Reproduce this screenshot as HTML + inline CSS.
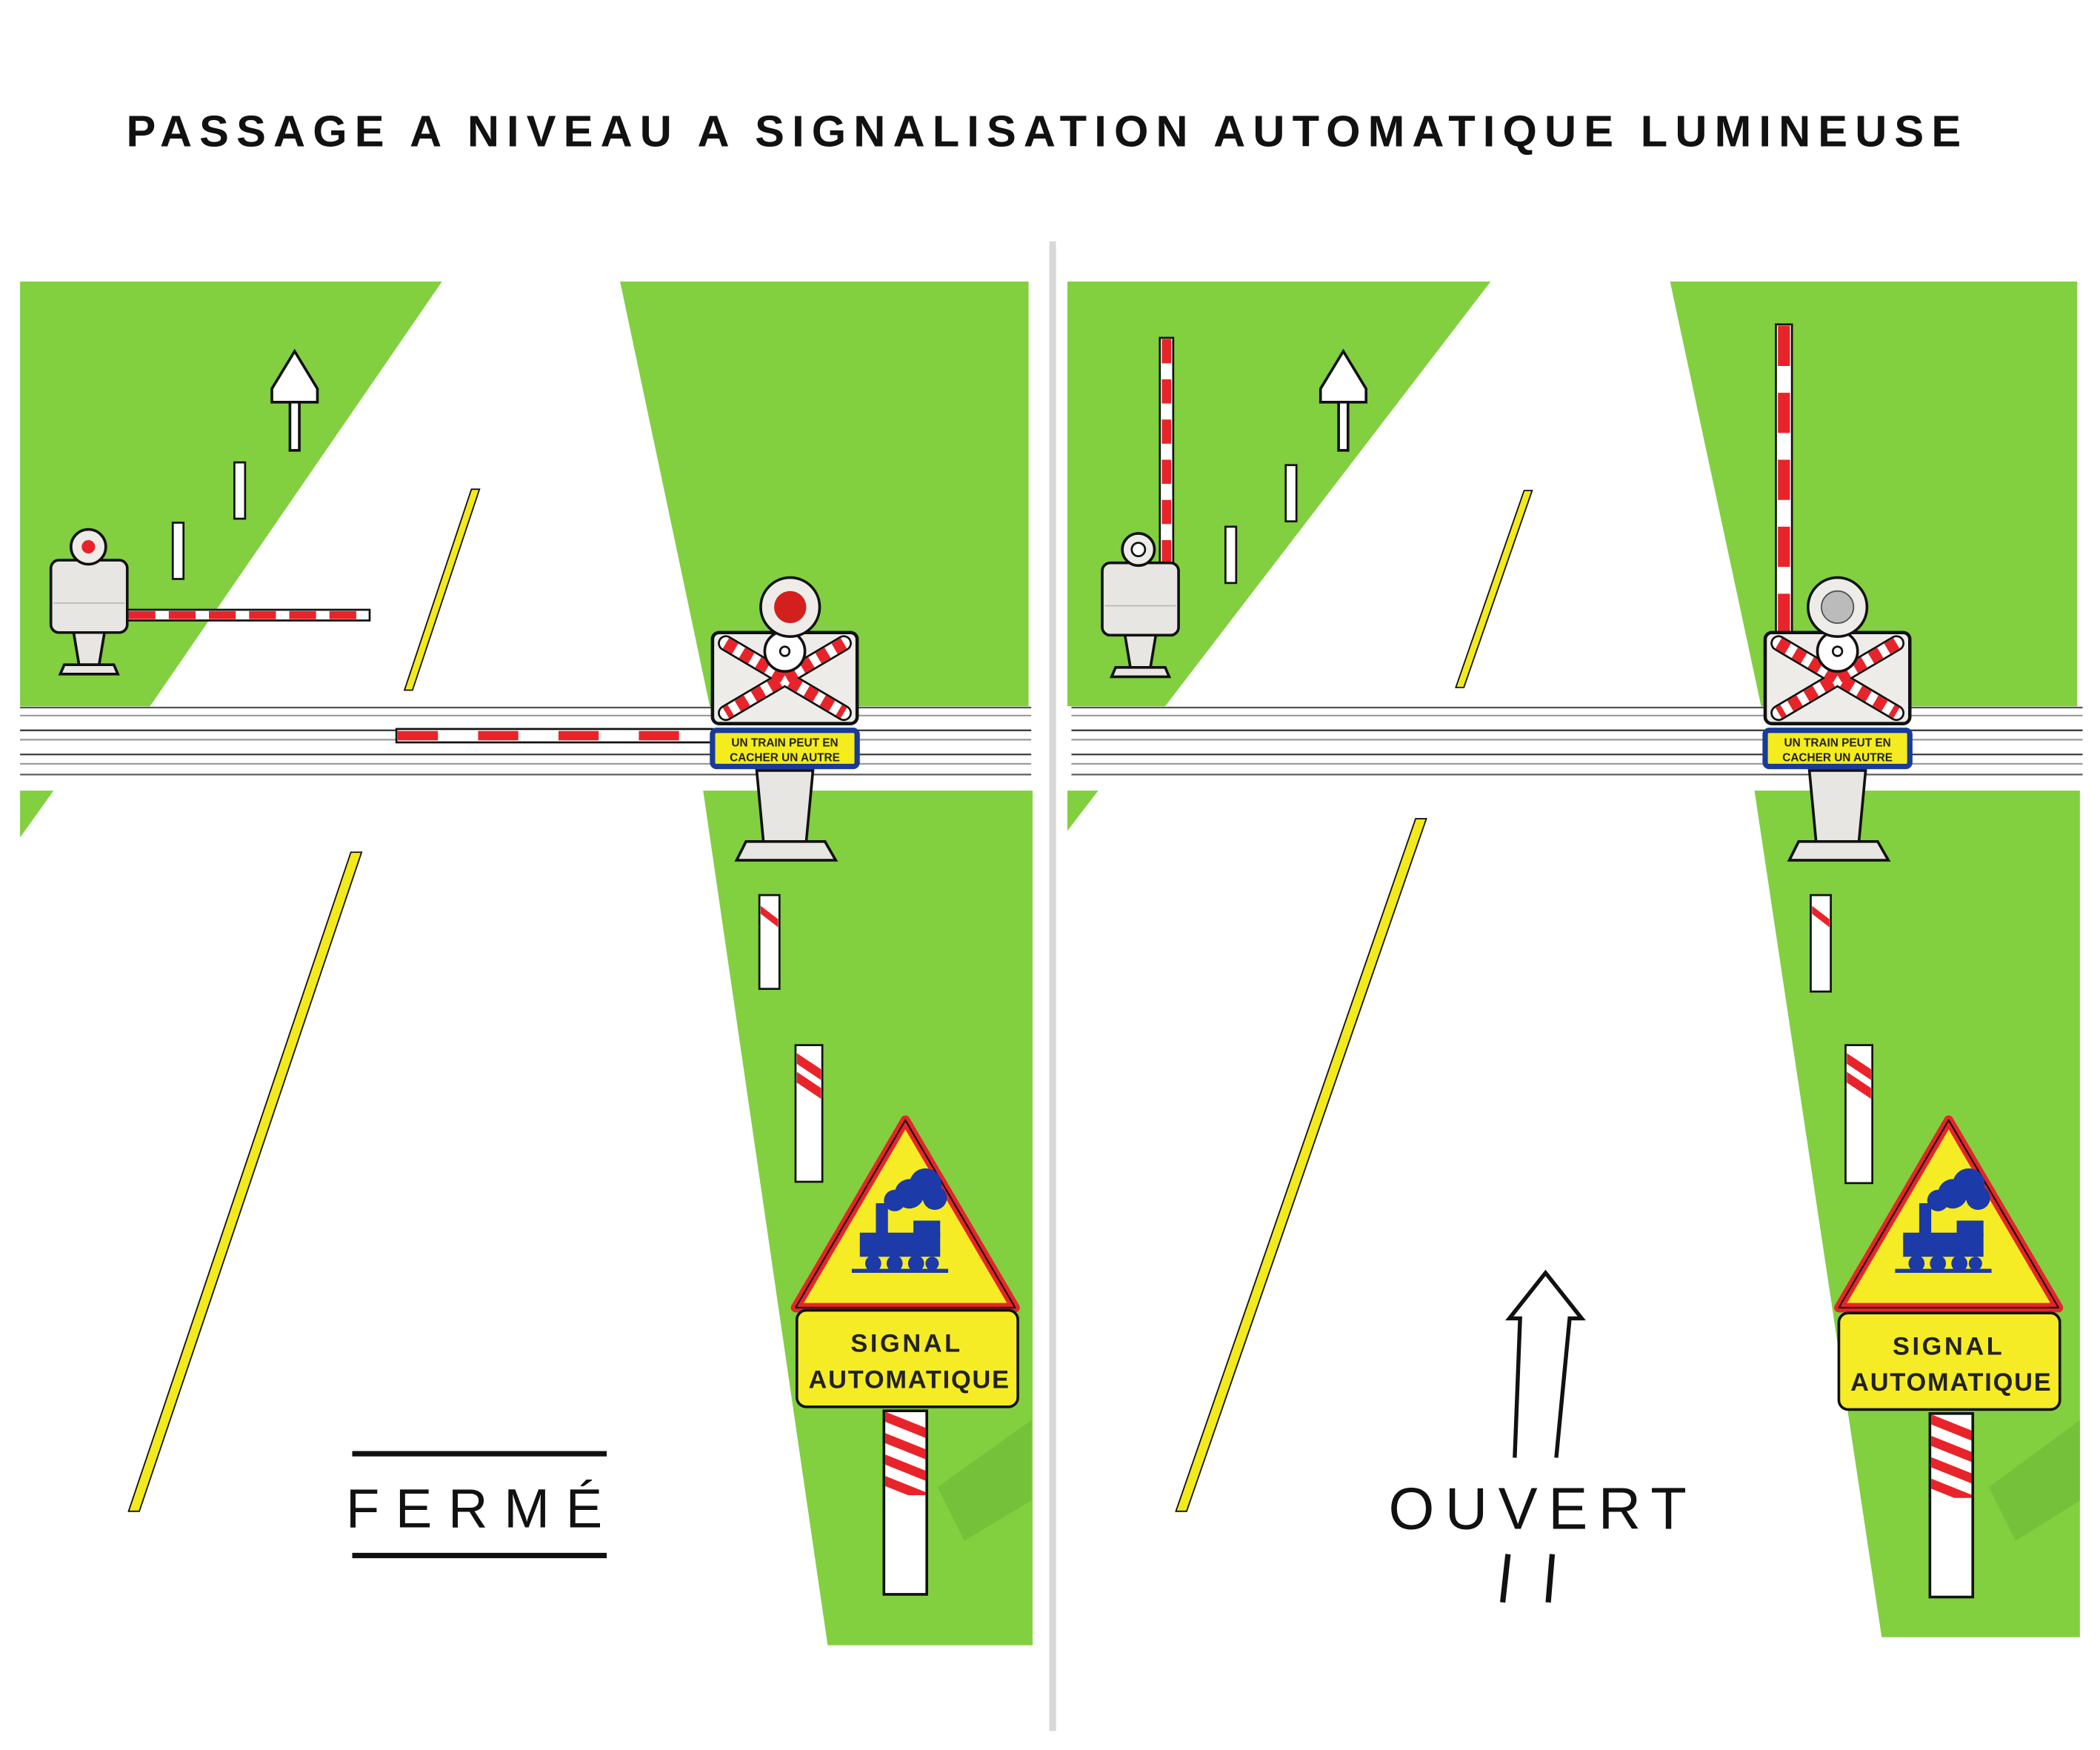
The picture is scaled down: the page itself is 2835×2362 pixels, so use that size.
<!DOCTYPE html>
<html><head><meta charset="utf-8">
<style>
html,body{margin:0;padding:0;background:#fff;}
svg{display:block;}
text{font-family:"Liberation Sans",sans-serif;}
</style></head>
<body>
<svg width="2835" height="2362" viewBox="0 0 1568 1306" xmlns="http://www.w3.org/2000/svg">
<defs>
  <g id="arrowsign">
    <path d="M-17,38 L-17,28 L0,0 L17,28 L17,38 Z" fill="#fff" stroke="#111" stroke-width="2"/>
    <rect x="-3.5" y="38" width="7" height="36" fill="#fff" stroke="#111" stroke-width="2"/>
  </g>
  <g id="post">
    <rect x="0" y="0" width="8" height="42" fill="#fff" stroke="#111" stroke-width="1.5"/>
  </g>
  <g id="ctrl">
    <rect x="0" y="10" width="57" height="54" rx="6" fill="#e8e6e2" stroke="#111" stroke-width="2"/>
    <line x1="2" y1="42" x2="55" y2="42" stroke="#bbb" stroke-width="1"/>
    <path d="M17,64 L40,64 L36,88 L21,88 Z" fill="#e8e6e2" stroke="#111" stroke-width="2"/>
    <path d="M10,88 L47,88 L50,95 L7,95 Z" fill="#e8e6e2" stroke="#111" stroke-width="2"/>
  </g>
  <g id="cross">
    <rect x="0" y="0" width="108" height="68" rx="5" fill="#eeece8" stroke="#111" stroke-width="2.5"/>
    <g stroke="#111" stroke-width="12" stroke-linecap="round"><line x1="10" y1="8" x2="98" y2="60"/><line x1="98" y1="8" x2="10" y2="60"/></g>
    <g stroke="#fff" stroke-width="9" stroke-linecap="round"><line x1="10" y1="8" x2="98" y2="60"/><line x1="98" y1="8" x2="10" y2="60"/></g>
    <g stroke="#e8242a" stroke-width="9" stroke-dasharray="8 6"><line x1="10" y1="8" x2="98" y2="60"/><line x1="98" y1="8" x2="10" y2="60"/></g>
    <circle cx="54" cy="14" r="15" fill="#fff" stroke="#111" stroke-width="2"/>
    <circle cx="54" cy="14" r="3.5" fill="#fff" stroke="#111" stroke-width="1.5"/>
    <rect x="0" y="73" width="108" height="27" rx="3" fill="#f4ec1e" stroke="#1a3a9a" stroke-width="4"/>
    <text x="54" y="85" font-size="8.5" text-anchor="middle" fill="#222" font-weight="bold">UN TRAIN PEUT EN</text>
    <text x="54" y="96" font-size="8.5" text-anchor="middle" fill="#222" font-weight="bold">CACHER UN AUTRE</text>
    <path d="M33,103 L75,103 L70,156 L38,156 Z" fill="#e8e6e2" stroke="#111" stroke-width="2"/>
    <path d="M25,156 L84,156 L92,170 L18,170 Z" fill="#e8e6e2" stroke="#111" stroke-width="2"/>
  </g>
  <g id="warn">
    <path d="M0,0 L82,140 L-82,140 Z" fill="#f6ec26" stroke="#e8242a" stroke-width="7" stroke-linejoin="round"/>
    <path d="M0,0 L82,140 L-82,140 Z" fill="none" stroke="#111" stroke-width="1.2" stroke-linejoin="round"/>
    <g fill="#1c3aa8">
      <circle cx="3" cy="55" r="11"/><circle cx="15" cy="48" r="12"/><circle cx="-8" cy="60" r="8"/><circle cx="22" cy="58" r="9"/>
      <rect x="-22" y="62" width="9" height="25"/>
      <rect x="-34" y="84" width="60" height="18"/>
      <rect x="6" y="75" width="20" height="12"/>
      <circle cx="-24" cy="107" r="6"/><circle cx="-8" cy="107" r="6"/><circle cx="8" cy="107" r="6"/><circle cx="20" cy="107" r="5"/>
      <rect x="-40" y="111" width="72" height="3"/>
    </g>
  </g>
  <g id="panel">
    <rect x="0" y="0" width="165" height="72" rx="7" fill="#f6ec26" stroke="#111" stroke-width="2"/>
    <text x="82" y="31" font-size="19" text-anchor="middle" font-weight="bold" letter-spacing="2" fill="#222">SIGNAL</text>
    <text x="84" y="58" font-size="19" text-anchor="middle" font-weight="bold" letter-spacing="1" fill="#222">AUTOMATIQUE</text>
  </g>
  <g id="pole">
    <rect x="0" y="0" width="32" height="137" fill="#fff" stroke="#111" stroke-width="2"/>
    <clipPath id="pc"><rect x="1" y="1" width="30" height="62"/></clipPath>
    <g clip-path="url(#pc)" stroke="#e8242a" stroke-width="7">
      <line x1="-10" y1="0" x2="40" y2="20"/><line x1="-10" y1="16" x2="40" y2="36"/><line x1="-10" y1="32" x2="40" y2="52"/><line x1="-10" y1="48" x2="40" y2="68"/>
    </g>
  </g>
  <g id="rails" stroke-width="1.2">
    <line x1="0" y1="528" x2="755" y2="528" stroke="#555"/>
    <line x1="0" y1="534" x2="755" y2="534" stroke="#999"/>
    <line x1="0" y1="545" x2="755" y2="545" stroke="#333"/>
    <line x1="0" y1="552" x2="755" y2="552" stroke="#999"/>
    <line x1="0" y1="563" x2="755" y2="563" stroke="#333"/>
    <line x1="0" y1="570" x2="755" y2="570" stroke="#999"/>
    <line x1="0" y1="578" x2="755" y2="578" stroke="#555"/>
  </g>
</defs>

<text x="782" y="109" font-size="33" font-weight="bold" text-anchor="middle" letter-spacing="5.6" fill="#111">PASSAGE A NIVEAU A SIGNALISATION AUTOMATIQUE LUMINEUSE</text>

<line x1="786" y1="180" x2="786" y2="1292" stroke="#d8d8d8" stroke-width="5"/>

<!-- LEFT PANEL -->
<g fill="#82cf40">
  <path d="M15,210 L330,210 L112,527 L15,527 Z"/>
  <path d="M463,210 L768,210 L768,527 L530,527 Z"/>
  <path d="M15,590 L40,590 L15,625 Z"/>
  <path d="M525,590 L771,590 L771,1228 L618,1228 Z"/>
</g>
<g fill="#6cb836" opacity="0.6">
  <path d="M700,1110 L770,1060 L770,1120 L720,1150 Z"/>
</g>
<use href="#rails" x="15"/>
<g stroke="#111" stroke-width="1" fill="#f2ea1c">
  <path d="M352,365 L358,365 L308,515 L302,515 Z"/>
  <path d="M262,636 L270,636 L104,1128 L96,1128 Z"/>
</g>
<use href="#arrowsign" x="220" y="262"/>
<use href="#post" x="175" y="345"/>
<use href="#post" x="129" y="390"/>
<rect x="95" y="455" width="181" height="8" fill="#fff" stroke="#111" stroke-width="1.5"/>
<line x1="96" y1="459" x2="275" y2="459" stroke="#e8242a" stroke-width="6" stroke-dasharray="20 10"/>
<use href="#ctrl" x="38" y="408"/>
<circle cx="66" cy="408" r="13" fill="#eeece8" stroke="#111" stroke-width="2"/>
<circle cx="66" cy="408" r="5" fill="#e8242a"/>
<rect x="296" y="544" width="236" height="10" fill="#fff" stroke="#111" stroke-width="1.5"/>
<line x1="297" y1="549" x2="531" y2="549" stroke="#e8242a" stroke-width="7" stroke-dasharray="30 30"/>
<use href="#cross" x="532" y="472"/>
<circle cx="590" cy="453" r="22" fill="#eeece8" stroke="#111" stroke-width="2"/>
<circle cx="590" cy="453" r="12" fill="#d3201f"/>
<rect x="567" y="668" width="15" height="70" fill="#fff" stroke="#111" stroke-width="1.5"/>
<path d="M568,676 L581,686 L581,692 L568,682 Z" fill="#e8242a"/>
<rect x="594" y="780" width="20" height="102" fill="#fff" stroke="#111" stroke-width="1.5"/>
<path d="M595,786 L613,798 L613,806 L595,794 Z M595,800 L613,812 L613,820 L595,808 Z" fill="#e8242a"/>
<use href="#pole" x="660" y="1053"/>
<use href="#warn" x="676" y="836"/>
<use href="#panel" x="595" y="978"/>
<line x1="263" y1="1085" x2="453" y2="1085" stroke="#111" stroke-width="4"/>
<line x1="263" y1="1161" x2="453" y2="1161" stroke="#111" stroke-width="4"/>
<text x="360" y="1140" font-size="41" text-anchor="middle" letter-spacing="12" fill="#111">FERMÉ</text>

<!-- RIGHT PANEL -->
<g fill="#82cf40">
  <path d="M797,210 L1113,210 L870,527 L797,527 Z"/>
  <path d="M1247,210 L1551,210 L1551,527 L1315,527 Z"/>
  <path d="M797,590 L820,590 L797,620 Z"/>
  <path d="M1310,590 L1553,590 L1553,1222 L1405,1222 Z"/>
</g>
<g fill="#6cb836" opacity="0.6">
  <path d="M1485,1110 L1553,1060 L1553,1120 L1505,1150 Z"/>
</g>
<use href="#rails" x="800"/>
<g stroke="#111" stroke-width="1" fill="#f2ea1c">
  <path d="M1138,366 L1144,366 L1093,513 L1087,513 Z"/>
  <path d="M1057,611 L1065,611 L886,1128 L878,1128 Z"/>
</g>
<use href="#arrowsign" x="1003" y="262"/>
<use href="#post" x="960" y="347"/>
<use href="#post" x="915" y="393"/>
<rect x="866" y="252" width="10" height="170" fill="#fff" stroke="#111" stroke-width="1.5"/>
<line x1="871" y1="253" x2="871" y2="421" stroke="#e8242a" stroke-width="7" stroke-dasharray="18 12"/>
<use href="#ctrl" x="823" y="410"/>
<circle cx="850" cy="410" r="12" fill="#eeece8" stroke="#111" stroke-width="2"/>
<circle cx="850" cy="410" r="5" fill="#fff" stroke="#111" stroke-width="1.5"/>
<rect x="1326" y="242" width="12" height="230" fill="#fff" stroke="#111" stroke-width="1.5"/>
<line x1="1332" y1="243" x2="1332" y2="471" stroke="#e8242a" stroke-width="9" stroke-dasharray="30 20"/>
<use href="#cross" x="1318" y="472"/>
<circle cx="1372" cy="453" r="22" fill="#eeece8" stroke="#111" stroke-width="2"/>
<circle cx="1372" cy="453" r="12" fill="#bbb" stroke="#555" stroke-width="1"/>
<rect x="1352" y="668" width="15" height="72" fill="#fff" stroke="#111" stroke-width="1.5"/>
<path d="M1353,676 L1366,686 L1366,692 L1353,682 Z" fill="#e8242a"/>
<rect x="1378" y="780" width="20" height="103" fill="#fff" stroke="#111" stroke-width="1.5"/>
<path d="M1379,786 L1397,798 L1397,806 L1379,794 Z M1379,800 L1397,812 L1397,820 L1379,808 Z" fill="#e8242a"/>
<use href="#pole" x="1441" y="1055"/>
<use href="#warn" x="1455" y="836"/>
<use href="#panel" x="1373" y="980"/>
<path d="M1131,1088 L1135,984 L1127,984 L1154,950 L1181,984 L1172,984 L1162,1088" fill="none" stroke="#111" stroke-width="3"/>
<text x="1152" y="1141" font-size="44" text-anchor="middle" letter-spacing="8" fill="#111">OUVERT</text>
<line x1="1126" y1="1160" x2="1122" y2="1196" stroke="#111" stroke-width="4"/>
<line x1="1159" y1="1160" x2="1156" y2="1196" stroke="#111" stroke-width="4"/>
</svg>
</body></html>
